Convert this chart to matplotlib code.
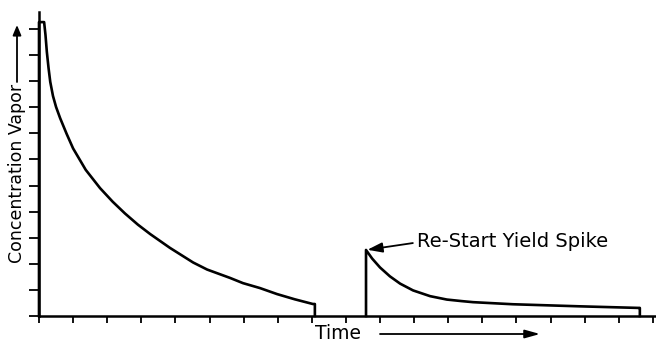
import matplotlib
matplotlib.use("Agg")
import matplotlib.pyplot as plt

# ---- data ----
run1_time = [0.0, 0.0, 0.15, 0.19, 0.23, 0.28, 0.33, 0.41, 0.50, 0.62, 0.81, 1.00,
             1.37, 1.79, 2.16, 2.52, 2.90, 3.26, 3.84, 4.52, 4.93, 5.60, 5.98,
             6.48, 6.98, 7.50, 8.03, 8.09, 8.09]
run1_conc = [0.0, 11.26, 11.26, 10.77, 10.12, 9.50, 8.97, 8.43, 8.01, 7.58, 6.98, 6.42,
             5.60, 4.90, 4.38, 3.93, 3.50, 3.14, 2.61, 2.05, 1.78, 1.46, 1.26,
             1.07, 0.84, 0.64, 0.46, 0.46, 0.0]

run2_time = [9.59, 9.59, 9.77, 10.00, 10.29, 10.59, 10.97, 11.47, 11.96, 12.40,
             12.73, 13.90, 15.87, 17.57, 17.62, 17.62]
run2_conc = [0.0, 2.53, 2.20, 1.86, 1.52, 1.24, 0.98, 0.76, 0.63, 0.57,
             0.53, 0.45, 0.37, 0.31, 0.31, 0.0]

x_ticks = list(range(0, 19))
y_ticks = list(range(0, 12))

y_label = "Concentration Vapor"
x_label = "Time"
spike_label = "Re-Start Yield Spike"
spike_point = (9.59, 2.53)

# ---- figure ----
W, H = 656, 344
fig = plt.figure(figsize=(W / 100, H / 100), dpi=100)
ax = fig.add_axes([39 / W, 28 / H, (W - 39) / W, (316 - 12) / H])
ax.set_xlim(0, (W - 39) / 34.1)
ax.set_ylim(0, 304 / 26.1)

lw = 1.9
ax.plot(run1_time, run1_conc, color="black", lw=lw, solid_joinstyle="round",
        clip_on=False)
ax.plot(run2_time, run2_conc, color="black", lw=lw, solid_joinstyle="round",
        clip_on=False)

for s in ["top", "right"]:
    ax.spines[s].set_visible(False)
for s in ["left", "bottom"]:
    ax.spines[s].set_linewidth(1.8)
    ax.spines[s].set_color("black")

ax.set_xticks(x_ticks)
ax.set_yticks(y_ticks)
ax.set_xticklabels([])
ax.set_yticklabels([])
ax.tick_params(axis="x", direction="out", length=5, width=1.3, color="black")
ax.tick_params(axis="y", direction="out", length=7, width=1.3, color="black")

font = ["DejaVu Sans"]

# y-axis label and its arrow
fig.text(17 / W, (H - 173) / H, y_label, rotation=90, ha="center", va="center",
         fontsize=12.5, family=font, color="black")
fig.add_artist(matplotlib.patches.FancyArrowPatch(
    (17, H - 82), (17, H - 25), transform=None, arrowstyle="-|>,head_length=6,head_width=2.5",
    lw=1.3, color="black", mutation_scale=1, shrinkA=0, shrinkB=0))

# x-axis label and its arrow
fig.text(315 / W, (H - 339) / H, x_label, ha="left", va="baseline",
         fontsize=13.5, family=font, color="black")
fig.add_artist(matplotlib.patches.FancyArrowPatch(
    (380, H - 334), (540, H - 334), transform=None, arrowstyle="-|>,head_length=9,head_width=2.5",
    lw=1.3, color="black", mutation_scale=1, shrinkA=0, shrinkB=0))

# annotation
ax.annotate(spike_label, xy=spike_point, xycoords="data",
            xytext=(417, H - 247), textcoords="figure pixels",
            ha="left", va="baseline", fontsize=14, family=font, color="black",
            arrowprops=dict(arrowstyle="-|>,head_length=9,head_width=3",
                            mutation_scale=1, lw=1.3, color="black",
                            shrinkA=1, shrinkB=1, relpos=(0, 0.45)),
            annotation_clip=False)

fig.savefig("out.png", dpi=100)
